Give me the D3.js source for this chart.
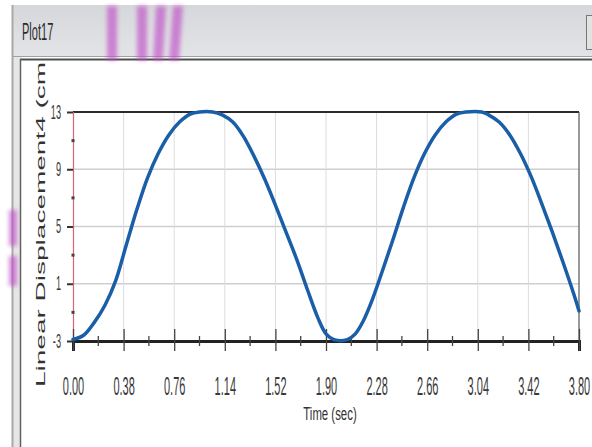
<html>
<head>
  <meta charset="utf-8">
  <script type="text/javascript" src="https://cdn.jsdelivr.net/npm/d3@7"></script>
  <style>
  body { margin: 0; background: #fff; }
  text { font-family: "Liberation Sans", Arial, sans-serif; fill: #353535; }
  </style>
</head>
<body>

<script type="text/javascript">
// readings (time in sec, displacement in cm)
var time = [0.00, 0.08, 0.16, 0.24, 0.32, 0.40, 0.48, 0.56, 0.64, 0.72, 0.80, 0.88, 0.95, 1.05,
            1.12, 1.20, 1.28, 1.36, 1.44, 1.52, 1.60, 1.68, 1.76, 1.84, 1.90, 1.96, 2.06,
            2.12, 2.18, 2.24, 2.32, 2.40, 2.48, 2.56, 2.64, 2.72, 2.80, 2.88, 2.95, 3.07,
            3.12, 3.20, 3.28, 3.36, 3.44, 3.52, 3.60, 3.68, 3.76, 3.80];
var displacement = [-2.9, -2.6, -1.7, -0.5, 1.2, 3.7, 6.2, 8.4, 10.1, 11.4, 12.3, 12.85, 13.0, 13.0,
            12.8, 12.3, 11.3, 9.9, 8.3, 6.5, 4.6, 2.7, 0.6, -1.4, -2.5, -2.9, -2.9,
            -2.5, -1.6, -0.3, 1.8, 4.0, 6.3, 8.4, 10.1, 11.4, 12.3, 12.85, 13.0, 13.0,
            12.8, 12.3, 11.4, 10.1, 8.5, 6.6, 4.6, 2.5, 0.3, -0.9];

var xTicks = [0, 0.38, 0.76, 1.14, 1.52, 1.90, 2.28, 2.66, 3.04, 3.42, 3.80];
var yTicks = [-3, 1, 5, 9, 13];
var yMinor = [-1, 3, 7, 11];

var W = 592, H = 447;
var svg = d3.select("body").append("svg")
  .attr("width", W).attr("height", H);

// ---- window chrome ----
var defs = svg.append("defs");
var grad = defs.append("linearGradient").attr("id", "bar").attr("x1", 0).attr("y1", 0).attr("x2", 0).attr("y2", 1);
grad.append("stop").attr("offset", "0%").attr("stop-color", "#d6d7db");
grad.append("stop").attr("offset", "100%").attr("stop-color", "#e3e4e7");
defs.append("filter").attr("id", "blur").append("feGaussianBlur").attr("stdDeviation", 2);
defs.append("clipPath").attr("id", "panel").append("rect")
  .attr("x", 21).attr("y", 61).attr("width", W).attr("height", H);

svg.append("rect").attr("x", 13).attr("y", 5).attr("width", W).attr("height", 52).attr("fill", "url(#bar)");
svg.append("rect").attr("x", 13).attr("y", 57).attr("width", 8).attr("height", H).attr("fill", "#e6e6e6");
svg.append("line").attr("x1", 12.5).attr("x2", 12.5).attr("y1", 5).attr("y2", H).attr("stroke", "#a8a8a8").attr("stroke-width", 2);
svg.append("line").attr("x1", 13).attr("x2", W).attr("y1", 56.5).attr("y2", 56.5).attr("stroke", "#a0a0a0");
svg.append("line").attr("x1", 20).attr("x2", W).attr("y1", 59.5).attr("y2", 59.5).attr("stroke", "#505050").attr("stroke-width", 2);
svg.append("line").attr("x1", 20.5).attr("x2", 20.5).attr("y1", 59).attr("y2", H).attr("stroke", "#606060").attr("stroke-width", 1.5);
svg.append("rect").attr("x", 586.5).attr("y", 15.5).attr("width", 10).attr("height", 34)
  .attr("fill", "#e2e2e2").attr("stroke", "#777");

svg.append("text").attr("transform", "translate(22,40) scale(0.46,1)")
  .style("font-size", "24px").style("fill", "#2a2a2a").text("Plot17");

// magenta smears from the photo
var smear = svg.append("g").attr("filter", "url(#blur)").attr("fill", "#c050c8").attr("opacity", 0.65);
[[107, 0], [137, 0], [153, 3], [169, 4]].forEach(function(s) {
  smear.append("polygon").attr("points",
    (s[0] + s[1]) + ",6 " + (s[0] + s[1] + 10) + ",6 " + (s[0] + 10) + ",60 " + s[0] + ",60");
});
smear.append("rect").attr("x", 9).attr("y", 210).attr("width", 8).attr("height", 36);
smear.append("rect").attr("x", 9).attr("y", 256).attr("width", 8).attr("height", 30);

// ---- plot ----
var x = d3.scaleLinear().domain([0, 3.8]).range([73, 579]);
var y = d3.scaleLinear().domain([-3, 13]).range([341, 112]);

var grid = svg.append("g");
grid.selectAll("line.h").data([1, 5, 9]).enter().append("line")
  .attr("x1", x(0)).attr("x2", x(3.8))
  .attr("y1", function(d) { return y(d); }).attr("y2", function(d) { return y(d); })
  .attr("stroke", "#cfcfcf").attr("stroke-width", 1.5);
grid.selectAll("line.v").data(xTicks.slice(1, -1)).enter().append("line")
  .attr("x1", function(d) { return x(d); }).attr("x2", function(d) { return x(d); })
  .attr("y1", y(13)).attr("y2", y(-3))
  .attr("stroke", "#dcdcdc").attr("stroke-width", 1);

// frame: top and right
svg.append("line").attr("x1", x(0)).attr("x2", x(3.8)).attr("y1", y(13)).attr("y2", y(13))
  .attr("stroke", "#2b2b2b").attr("stroke-width", 2);
svg.append("line").attr("x1", x(3.8)).attr("x2", x(3.8)).attr("y1", y(13)).attr("y2", y(-3))
  .attr("stroke", "#555").attr("stroke-width", 1.2);

// y axis (red line, dark ticks)
var yAxis = svg.append("g").attr("transform", "translate(" + x(0) + ",0)")
  .call(d3.axisLeft(y).tickValues(yTicks).tickSize(6).tickFormat(function(d) { return String(d); }));
yAxis.select(".domain").attr("stroke", "#e0607a").attr("stroke-width", 1.2);
yAxis.selectAll(".tick line").attr("stroke", "#333").attr("stroke-width", 2);
yAxis.selectAll(".tick text")
  .attr("x", null).attr("dy", null)
  .attr("transform", "translate(-12,6) scale(0.46,1)")
  .style("font-size", "20px").style("fill", "#3a3a3a");
svg.selectAll("rect.ym").data(yMinor).enter().append("rect")
  .attr("x", x(0) - 1.5).attr("y", function(d) { return y(d) - 1.5; })
  .attr("width", 3).attr("height", 3).attr("fill", "#444");

// x axis (thick black line, crossing ticks)
var xAxis = svg.append("g").attr("transform", "translate(0," + y(-3) + ")")
  .call(d3.axisBottom(x).tickValues(xTicks).tickSize(10).tickFormat(d3.format(".2f")));
xAxis.select(".domain").attr("stroke", "#222").attr("stroke-width", 3);
xAxis.selectAll(".tick line").attr("y1", -12).attr("stroke", "#444").attr("stroke-width", 1.3);
xAxis.selectAll(".tick text")
  .attr("y", null).attr("dy", null)
  .attr("transform", "translate(0,54) scale(0.44,1)")
  .style("font-size", "25px").style("fill", "#3a3a3a");
svg.selectAll("line.xm").data(xTicks.slice(0, -1)).enter().append("line")
  .attr("x1", function(d, i) { return x((d + xTicks[i + 1]) / 2); })
  .attr("x2", function(d, i) { return x((d + xTicks[i + 1]) / 2); })
  .attr("y1", y(-3) - 5).attr("y2", y(-3) + 5)
  .attr("stroke", "#444").attr("stroke-width", 1.3);

// the trace
var line = d3.line()
  .x(function(d, i) { return x(time[i]); })
  .y(function(d) { return y(d); })
  .curve(d3.curveCatmullRom.alpha(0.5));
svg.append("path").datum(displacement)
  .attr("d", line)
  .attr("fill", "none").attr("stroke", "#1b5ea8").attr("stroke-width", 3.5)
  .attr("stroke-linejoin", "round").attr("stroke-linecap", "round");

// axis titles
svg.append("text").attr("transform", "translate(330,420) scale(0.6,1)")
  .attr("text-anchor", "middle").style("font-size", "19px").style("fill", "#333")
  .text("Time (sec)");
svg.append("g").attr("clip-path", "url(#panel)")
  .append("text").attr("transform", "translate(45,387) rotate(-90) scale(1,0.43)")
  .style("font-size", "28px").style("fill", "#333")
  .text("Linear Displacement4 (cm)");

</script>

</body>
</html>
